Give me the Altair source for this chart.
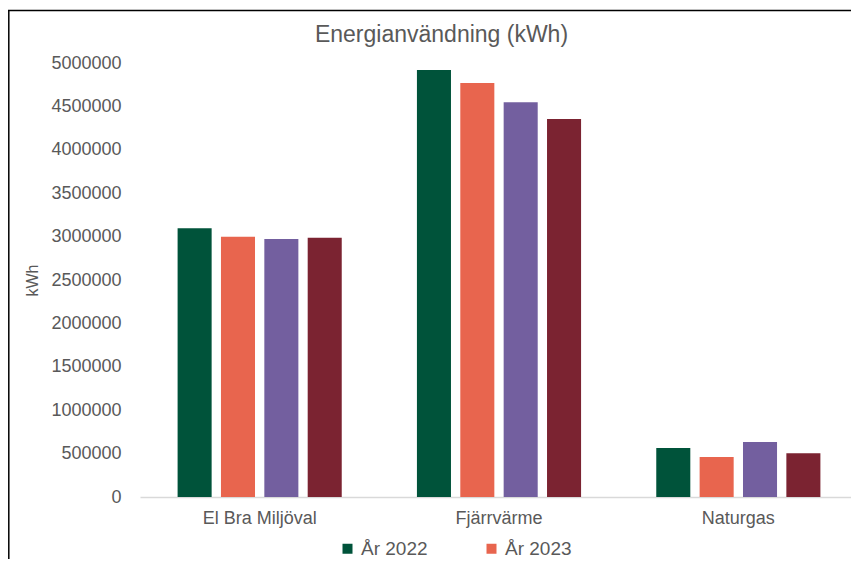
import altair as alt
import pandas as pd

categories = ["El Bra Miljöval", "Fjärrvärme", "Naturgas"]
series = ["År 2022", "År 2023", "År 2024", "År 2025"]
legend_shown = ["År 2022", "År 2023"]
v2022 = [3096000, 4919000, 565000]
v2023 = [2999000, 4770000, 461000]
v2024 = [2971000, 4548000, 634000]
v2025 = [2987000, 4355000, 503000]
y_ticks = [0, 500000, 1000000, 1500000, 2000000, 2500000, 3000000,
           3500000, 4000000, 4500000, 5000000]
colors = ["#00533A", "#E8654E", "#735F9F", "#7B2331"]

rows = []
for s, vals in zip(series, [v2022, v2023, v2024, v2025]):
    for c, v in zip(categories, vals):
        rows.append({"kategori": c, "serie": s, "kWh": v})
df = pd.DataFrame(rows)

FONT = "Liberation Sans"
GRAY = "#595959"

bars = alt.Chart(df).mark_bar().encode(
    x=alt.X("kategori:N", sort=categories,
            scale=alt.Scale(paddingInner=0, paddingOuter=0, range=[0, 718]),
            axis=alt.Axis(title=None, labelAngle=0, ticks=False, tickSize=0,
                          labelPadding=12, labelFontSize=18, labelColor=GRAY,
                          labelFont=FONT, domainColor="#D9D9D9", domainWidth=1.5)),
    xOffset=alt.XOffset("serie:N", sort=series,
                        scale=alt.Scale(paddingInner=0.215, paddingOuter=0.867)),
    y=alt.Y("kWh:Q", scale=alt.Scale(domain=[0, 5000000], nice=False),
            axis=alt.Axis(title="kWh", values=y_ticks, format="d", grid=False,
                          domain=False, ticks=False, tickSize=0, labelPadding=19,
                          labelFontSize=18, labelColor=GRAY, labelFont=FONT,
                          titleFontSize=16, titleFont=FONT, titleColor=GRAY,
                          titleFontWeight="normal", titlePadding=10)),
    color=alt.Color("serie:N", sort=series,
                    scale=alt.Scale(domain=series, range=colors),
                    legend=alt.Legend(title=None, orient="none", legendX=198,
                                      legendY=476, direction="horizontal",
                                      values=legend_shown, columnPadding=54,
                                      symbolType="square", symbolSize=100,
                                      symbolStrokeWidth=0, labelFontSize=19,
                                      labelFont=FONT, labelColor=GRAY,
                                      labelOffset=4, padding=0)),
)

frame_df = pd.DataFrame({"a": [0]})
top_line = alt.Chart(frame_df).mark_rule(color="#000000", strokeWidth=1.5).encode(
    x=alt.value(-132), x2=alt.value(760), y=alt.value(-52.5))
left_line = alt.Chart(frame_df).mark_rule(color="#000000", strokeWidth=1.5).encode(
    x=alt.value(-131.2), y=alt.value(-53), y2=alt.value(520))

chart = alt.layer(bars, top_line, left_line).properties(
    width=711, height=434,
    autosize=alt.AutoSizeParams(type="none"),
    padding={"left": 132, "top": 55, "right": 0, "bottom": 62},
    title=alt.TitleParams("Energianvändning (kWh)", fontSize=23, font=FONT,
                          color=GRAY, fontWeight="normal", anchor="middle",
                          dx=-54, dy=38, offset=0),
).configure_view(stroke=None)

chart.save("out.html", embed_options={"renderer": "svg", "actions": False})
